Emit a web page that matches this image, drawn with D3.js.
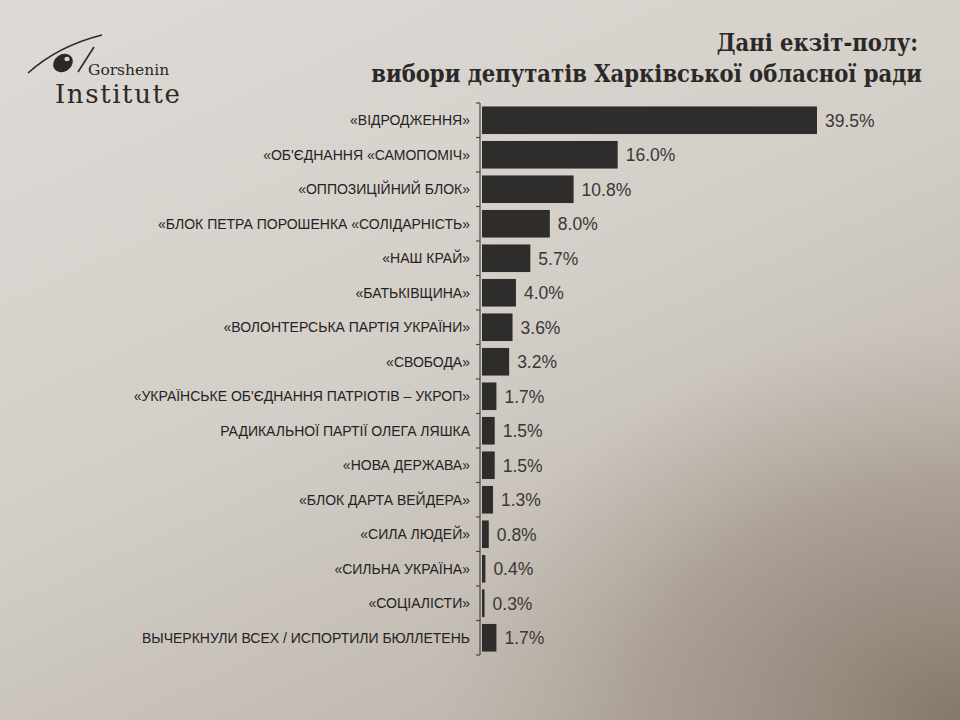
<!DOCTYPE html>
<html>
<head>
<meta charset="utf-8">
<script src="https://cdnjs.cloudflare.com/ajax/libs/d3/7.8.5/d3.min.js"></script>
<style>
  html, body { margin: 0; padding: 0; background: #d4d0ca; }
  svg { display: block; }
</style>
</head>
<body>
<div id="chart"></div>
<script>
/* Data */
const PARTIES = [
  "«ВІДРОДЖЕННЯ»",
  "«ОБ'ЄДНАННЯ «САМОПОМІЧ»",
  "«ОППОЗИЦІЙНИЙ БЛОК»",
  "«БЛОК ПЕТРА ПОРОШЕНКА «СОЛІДАРНІСТЬ»",
  "«НАШ КРАЙ»",
  "«БАТЬКІВЩИНА»",
  "«ВОЛОНТЕРСЬКА ПАРТІЯ УКРАЇНИ»",
  "«СВОБОДА»",
  "«УКРАЇНСЬКЕ ОБ'ЄДНАННЯ ПАТРІОТІВ – УКРОП»",
  "РАДИКАЛЬНОЇ ПАРТІЇ ОЛЕГА ЛЯШКА",
  "«НОВА ДЕРЖАВА»",
  "«БЛОК ДАРТА ВЕЙДЕРА»",
  "«СИЛА ЛЮДЕЙ»",
  "«СИЛЬНА УКРАЇНА»",
  "«СОЦІАЛІСТИ»",
  "ВЫЧЕРКНУЛИ ВСЕХ / ИСПОРТИЛИ БЮЛЛЕТЕНЬ"
]
const VALUES = [39.5, 16.0, 10.8, 8.0, 5.7, 4.0, 3.6, 3.2, 1.7, 1.5, 1.5, 1.3, 0.8, 0.4, 0.3, 1.7]
const TITLE_LINES = ["Дані екзіт-полу:", "вибори депутатів Харківської обласної ради"]

/* Layout constants */
const WIDTH = 960
const HEIGHT = 720
const AXIS_X = 480
const BAR_X0 = 482
const TOP = 103
const BOTTOM = 655
const INK = "#2b2927"
const BAR_COLOR = "#2f2d2b"

const svg = d3.select("#chart")
              .append("svg")
              .attr("width", WIDTH)
              .attr("height", HEIGHT);

/* paper background, photographed with a shadow at the bottom right */
const defs = svg.append("defs");
const lin = defs.append("linearGradient")
                .attr("id", "paper")
                .attr("x1", "0").attr("y1", "0").attr("x2", "0.6").attr("y2", "1");
lin.append("stop").attr("offset", "0").attr("stop-color", "#dedad5");
lin.append("stop").attr("offset", "0.55").attr("stop-color", "#d3cec8");
lin.append("stop").attr("offset", "1").attr("stop-color", "#bdb6ae");
const rad = defs.append("radialGradient")
                .attr("id", "shadow")
                .attr("cx", "1").attr("cy", "1").attr("r", "0.55");
rad.append("stop").attr("offset", "0").attr("stop-color", "#85776a").attr("stop-opacity", 1);
rad.append("stop").attr("offset", "0.6").attr("stop-color", "#9d9082").attr("stop-opacity", 0.6);
rad.append("stop").attr("offset", "1").attr("stop-color", "#b0a598").attr("stop-opacity", 0);
svg.append("rect").attr("width", WIDTH).attr("height", HEIGHT).attr("fill", "url(#paper)");
svg.append("rect").attr("width", WIDTH).attr("height", HEIGHT).attr("fill", "url(#shadow)");

/* Logo */
const logo = svg.append("g").attr("fill", INK).attr("stroke", INK);
logo.append("path")
    .attr("d", "M28,73 Q58,46 102,35")
    .attr("fill", "none")
    .attr("stroke-width", 1.6);
logo.append("ellipse")
    .attr("cx", 63).attr("cy", 63).attr("rx", 10.5).attr("ry", 8.5)
    .attr("transform", "rotate(-35,63,63)")
    .attr("stroke", "none");
logo.append("ellipse")
    .attr("cx", 67).attr("cy", 59).attr("rx", 2.6).attr("ry", 2.2)
    .attr("fill", "#d8d4ce").attr("stroke", "none");
logo.append("path")
    .attr("d", "M78,72 L94,47")
    .attr("fill", "none")
    .attr("stroke-width", 1.6);
logo.append("text")
    .attr("x", 88).attr("y", 75)
    .attr("stroke", "none")
    .style("font-family", "'DejaVu Serif', serif")
    .style("font-size", "15.5px")
    .text("Gorshenin");
logo.append("text")
    .attr("x", 55).attr("y", 103)
    .attr("stroke", "none")
    .style("font-family", "'DejaVu Serif', serif")
    .style("font-size", "26px")
    .style("letter-spacing", "1.6px")
    .text("Institute");

/* Title */
svg.append("g")
   .selectAll("text")
   .data(TITLE_LINES)
   .enter()
   .append("text")
   .attr("x", (d, i) => i === 0 ? 918 : 922)
   .attr("y", (d, i) => 51 + i * 31)
   .attr("text-anchor", "end")
   .attr("fill", INK)
   .style("font-family", "'DejaVu Serif Condensed', 'DejaVu Serif', serif")
   .style("font-weight", "bold")
   .style("font-size", "23.5px")
   .text((d) => d);

/* Scales */
const y = d3.scaleBand()
            .domain(PARTIES)
            .range([TOP, BOTTOM])
            .paddingInner(0.2)
            .paddingOuter(0.1);
const x = d3.scaleLinear()
            .domain([0, 39.5])
            .range([BAR_X0, 817]);

/* Axis: vertical line with ticks between categories */
const axis = svg.append("g").attr("stroke", "#4a4745").attr("stroke-width", 1.2);
axis.append("line")
    .attr("x1", AXIS_X).attr("x2", AXIS_X)
    .attr("y1", TOP).attr("y2", BOTTOM);
axis.selectAll("line.tick")
    .data(d3.range(PARTIES.length + 1))
    .enter()
    .append("line")
    .attr("class", "tick")
    .attr("x1", AXIS_X - 4).attr("x2", AXIS_X)
    .attr("y1", (i) => TOP + i * (BOTTOM - TOP) / PARTIES.length)
    .attr("y2", (i) => TOP + i * (BOTTOM - TOP) / PARTIES.length);

/* Bars */
svg.append("g")
   .selectAll("rect")
   .data(VALUES)
   .enter()
   .append("rect")
   .attr("x", x(0))
   .attr("y", (d, i) => y(PARTIES[i]))
   .attr("width", (d) => Math.max(1.5, x(d) - x(0)))
   .attr("height", y.bandwidth())
   .attr("fill", BAR_COLOR);

/* Category labels */
svg.append("g")
   .selectAll("text")
   .data(PARTIES)
   .enter()
   .append("text")
   .attr("x", 470)
   .attr("y", (d) => y(d) + y.bandwidth() / 2)
   .attr("dy", "0.36em")
   .attr("text-anchor", "end")
   .attr("fill", "#252321")
   .style("font-family", "'Liberation Sans Narrow', 'Liberation Sans', Arial, sans-serif")
   .style("font-size", "14px")
   .text((d) => d);

/* Value labels */
svg.append("g")
   .selectAll("text")
   .data(VALUES)
   .enter()
   .append("text")
   .attr("x", (d) => Math.max(x(d), x(0) + 1.5) + 8)
   .attr("y", (d, i) => y(PARTIES[i]) + y.bandwidth() / 2)
   .attr("dy", "0.36em")
   .attr("fill", "#3a3836")
   .style("font-family", "'Liberation Sans', Arial, sans-serif")
   .style("font-size", "17.5px")
   .text((d) => d.toFixed(1) + "%");
</script>
</body>
</html>
